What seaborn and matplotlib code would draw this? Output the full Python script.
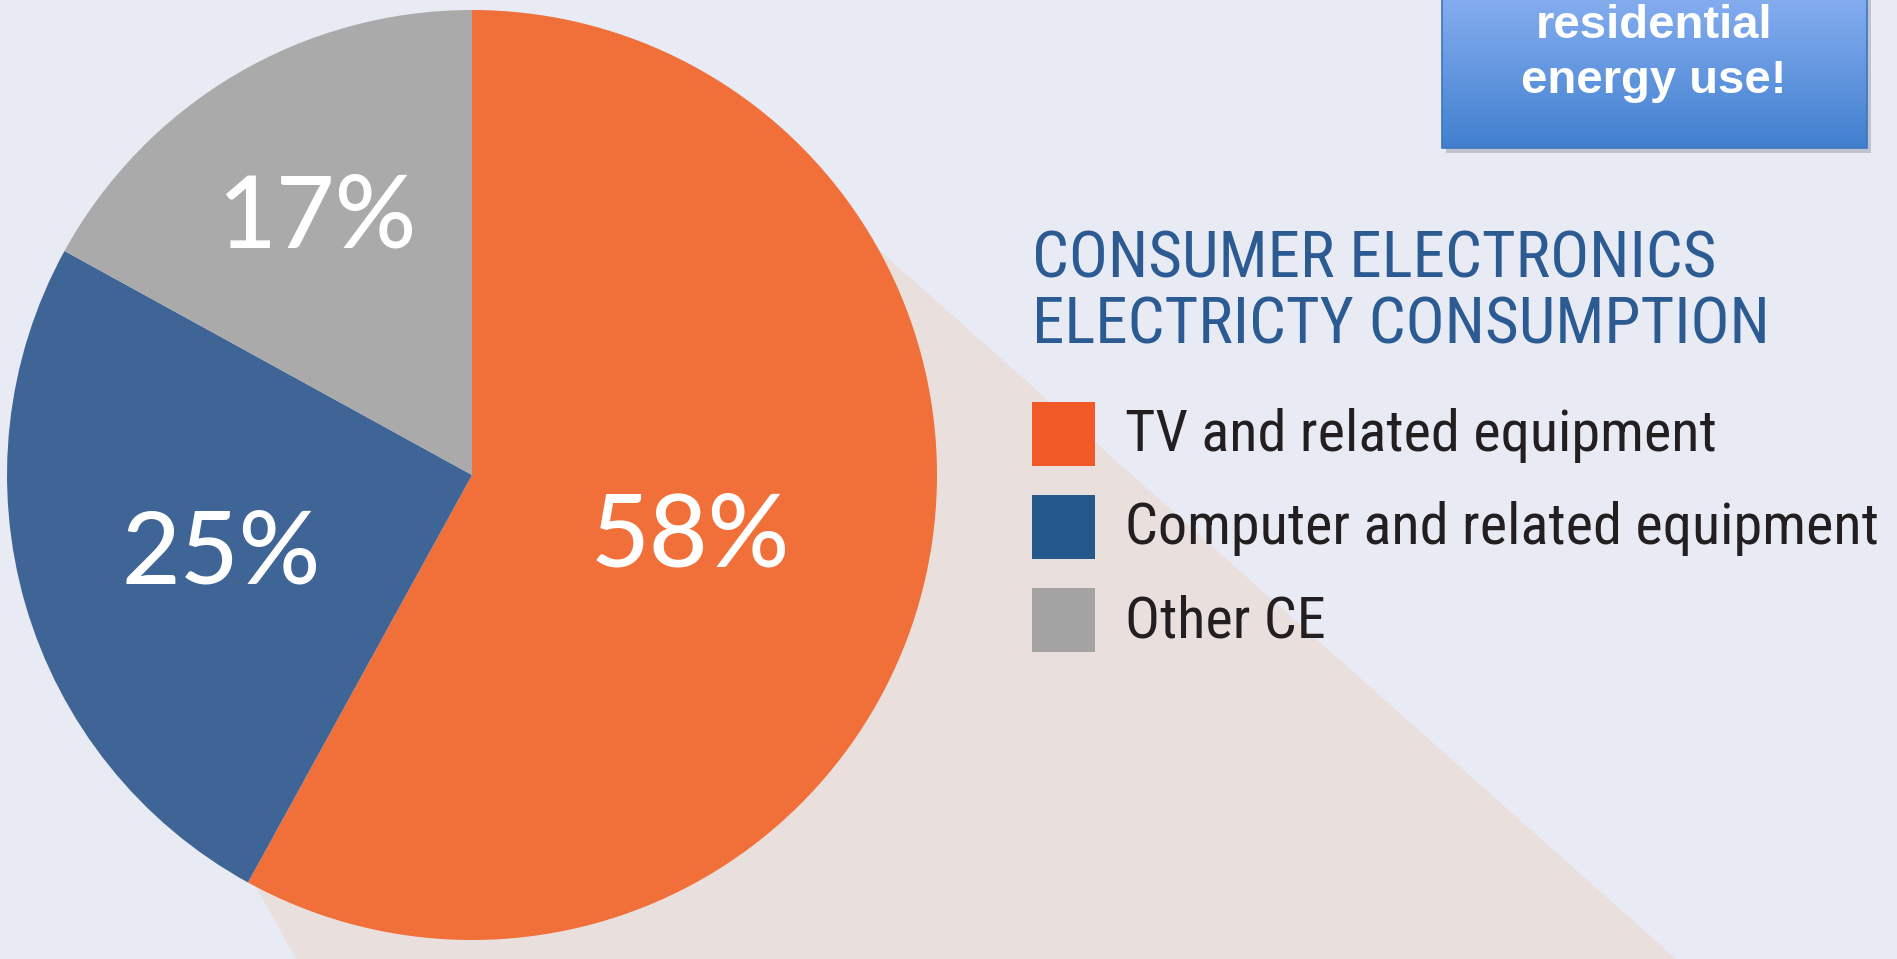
import matplotlib
matplotlib.use("Agg")
import matplotlib.pyplot as plt
import seaborn as sns
import numpy as np
from matplotlib import font_manager as fm
from matplotlib.patches import Polygon, Rectangle
from matplotlib.colors import LinearSegmentedColormap

# ---------------- data ----------------
categories = ["TV and related equipment", "Computer and related equipment", "Other CE"]
shares = [58, 25, 17]
pct_labels = ["58%", "25%", "17%"]
title_lines = ["CONSUMER ELECTRONICS", "ELECTRICTY CONSUMPTION"]
box_lines = ["residential", "energy use!"]

wedge_colors = ["#F1703A", "#3F6597", "#A9AAA9"]
legend_colors = ["#F15A26", "#24588B", "#A3A3A3"]

sns.set_theme(style="white")
plt.rcParams["font.family"] = ["Lato", "DejaVu Sans"]


# pick a condensed sans face if one is installed
def find_condensed():
    prefs = ["Roboto", "Open Sans", "Noto Sans", "Lato", "Liberation Sans", "DejaVu Sans"]
    entries = fm.fontManager.ttflist
    for p in prefs:
        for f in entries:
            nm = f.name
            if not nm.startswith(p):
                continue
            if f.style != "normal":
                continue
            w = f.weight if isinstance(f.weight, int) else 400
            if w not in (400, 500, "normal", "regular"):
                continue
            tag = (nm + " " + str(f.stretch) + " " + f.fname).lower()
            if ("condensed" in tag or "narrow" in tag) and "extra" not in tag and "ultra" not in tag and "semi" not in tag:
                if p == "Noto Sans" and nm not in ("Noto Sans", "Noto Sans Condensed"):
                    continue
                return fm.FontProperties(fname=f.fname)
    return fm.FontProperties(family="Lato")


cond_fp = find_condensed()

W, H = 1897, 959
BG = "#E8EBF4"
fig = plt.figure(figsize=(W / 100, H / 100), dpi=100)
fig.patch.set_facecolor(BG)

bg = fig.add_axes([0, 0, 1, 1])
bg.set_facecolor(BG)
bg.axis("off")

# shadow cast by the pie
bg.add_patch(Polygon([(472, 475), (879, 250), (1676, 959), (296, 959), (256, 887)],
                     closed=True, facecolor="#E9E0DE", edgecolor="none", zorder=1))

# callout box (top right)
bg.add_patch(Rectangle((1446, -10), 425, 163, facecolor="#8E949E", alpha=0.45,
                       edgecolor="none", zorder=2))
grad = np.linspace(0, 1, 256).reshape(-1, 1)
cmap = LinearSegmentedColormap.from_list("box", ["#86AEF0", "#4180CF"])
bg.imshow(grad, extent=(1442, 1867, 148, -5), cmap=cmap, aspect="auto", zorder=3)
bg.add_patch(Rectangle((1442, -5), 425, 153, facecolor="none", edgecolor="#3D76BE",
                       linewidth=1.2, zorder=4))
for i, line in enumerate(box_lines):
    bg.text(1654, 38 + 55 * i, line, ha="center", va="baseline", fontsize=34,
            fontweight="bold", color="white", family=["Liberation Sans", "DejaVu Sans"],
            zorder=5)

bg.set_xlim(0, W)
bg.set_ylim(H, 0)

fitted = []  # (text, target width px, max size)

# title
title_targets = [694, 737]
for i, line in enumerate(title_lines):
    t = bg.text(1032, 278 + 66 * i, line, ha="left", va="baseline", fontsize=46,
                color="#2B5B92", fontproperties=cond_fp, zorder=5)
    t.set_fontsize(46)
    fitted.append((t, title_targets[i], 52))

# legend
legend_targets = [591, 762, 207]
for i, (cat, col) in enumerate(zip(categories, legend_colors)):
    bg.add_patch(Rectangle((1032, 402 + 93 * i), 63, 64, facecolor=col,
                           edgecolor="none", zorder=5))
    t = bg.text(1125, 451 + 93.5 * i, cat, ha="left", va="baseline",
                color="#231F20", fontproperties=cond_fp, zorder=5)
    t.set_fontsize(40)
    fitted.append((t, legend_targets[i], 46))

# ---------------- pie ----------------
R_PX = 465
ax = fig.add_axes([(472 - R_PX) / W, (H - 475 - R_PX) / H, 2 * R_PX / W, 2 * R_PX / H])
ax.patch.set_alpha(0)
wedges, _ = ax.pie(shares, colors=wedge_colors, startangle=90, counterclock=False,
                   wedgeprops=dict(linewidth=0))
ax.set_xlim(-1, 1)
ax.set_ylim(-1, 1)
ax.axis("off")

label_dist = [0.485, 0.562, 0.658]
cap_half = 71 / 2 / R_PX
for w, lab, d in zip(wedges, pct_labels, label_dist):
    ang = np.deg2rad((w.theta1 + w.theta2) / 2)
    ax.text(d * np.cos(ang), d * np.sin(ang) - cap_half, lab, ha="center",
            va="baseline", fontsize=73, fontweight=500, color="white")

# fit condensed texts to the reference widths
fig.canvas.draw()
r = fig.canvas.get_renderer()
sizes = []
for t, target, mx in fitted:
    wpx = t.get_window_extent(r).width
    sizes.append(min(mx, t.get_fontsize() * target / wpx))
# keep the legend rows at one common size, the title rows at one common size
ts = min(sizes[:2])
ls = min(sizes[2:4])
for k, (t, _, _) in enumerate(fitted):
    t.set_fontsize(ts if k < 2 else ls)

fig.savefig("out.png", dpi=100, facecolor=BG)
